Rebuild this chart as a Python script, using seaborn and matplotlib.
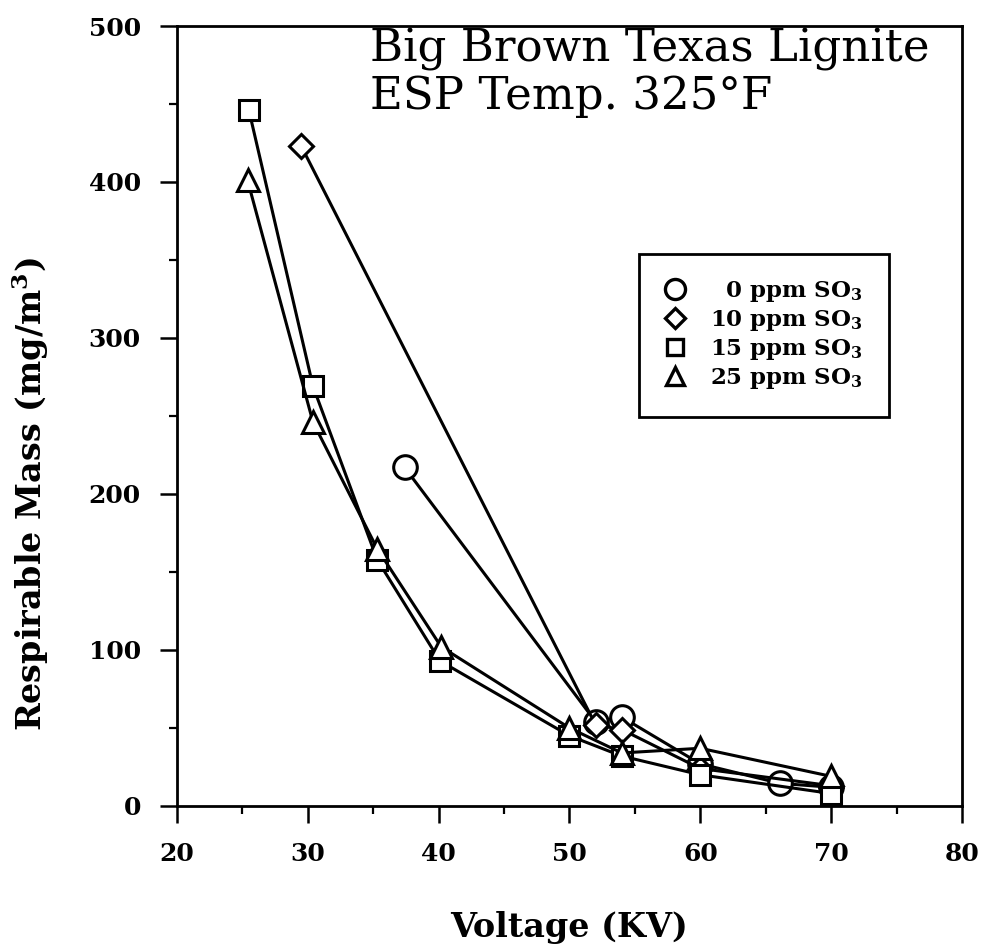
"""Respirable mass vs ESP voltage, Big Brown Texas lignite."""

import matplotlib

matplotlib.use("Agg")
import matplotlib.pyplot as plt
import pandas as pd
import seaborn as sns
from matplotlib.lines import Line2D
from matplotlib.ticker import MultipleLocator

# --- data -------------------------------------------------------------------
series_names = ["0 ppm", "10 ppm", "15 ppm", "25 ppm"]
series_markers = ["o", "D", "s", "^"]
marker_sizes = [17, 12, 14, 16]

kv_0ppm = [37.4, 52.0, 54.0, 60.0, 66.1, 70.0]
mass_0ppm = [217, 54, 57, 27, 14.5, 12]

kv_10ppm = [29.5, 52.0, 54.0, 60.0, 70.0]
mass_10ppm = [423, 52, 49, 24, 13]

kv_15ppm = [25.5, 30.4, 35.3, 40.1, 50.0, 54.0, 60.0, 70.0]
mass_15ppm = [446, 269, 158, 93, 45, 32, 20, 8]

kv_25ppm = [25.4, 30.4, 35.3, 40.2, 50.0, 54.0, 60.0, 70.0]
mass_25ppm = [401, 246, 165, 102, 50, 34, 37, 19]

legend_labels = [
    "\u20070 ppm SO$_{\\mathbf{3}}$\u2007",
    "10 ppm SO$_{\\mathbf{3}}$\u2007",
    "15 ppm SO$_{\\mathbf{3}}$\u2007",
    "25 ppm SO$_{\\mathbf{3}}$\u2007",
]

xs = [kv_0ppm, kv_10ppm, kv_15ppm, kv_25ppm]
ys = [mass_0ppm, mass_10ppm, mass_15ppm, mass_25ppm]
df = pd.concat(
    [pd.DataFrame({"kv": x, "mass": y, "so3": name}) for name, x, y in zip(series_names, xs, ys)],
    ignore_index=True,
)

sns.set_style("ticks")
plt.rcParams["font.family"] = ["DejaVu Serif"]
plt.rcParams["mathtext.fontset"] = "dejavuserif"
for key in ["text.color", "axes.labelcolor", "xtick.color", "ytick.color", "axes.edgecolor"]:
    plt.rcParams[key] = "black"

fig = plt.figure(figsize=(9.83, 9.49), dpi=100)
ax = fig.add_axes([0.180, 0.1507, 0.7986, 0.8219])

for name, marker, msize in zip(series_names, series_markers, marker_sizes):
    sns.lineplot(
        data=df[df["so3"] == name],
        x="kv",
        y="mass",
        color="black",
        marker=marker,
        sort=False,
        estimator=None,
        legend=False,
        linewidth=2.2,
        markersize=msize,
        markerfacecolor="white",
        markeredgecolor="black",
        markeredgewidth=2.2,
        ax=ax,
    )

ax.set_xlim(20, 80)
ax.set_ylim(0, 500)
ax.xaxis.set_major_locator(MultipleLocator(10))
ax.xaxis.set_minor_locator(MultipleLocator(5))
ax.yaxis.set_major_locator(MultipleLocator(100))
ax.yaxis.set_minor_locator(MultipleLocator(50))
ax.tick_params(which="major", length=12, width=1.8, direction="out", pad=14,
               labelsize=18, color="black", labelcolor="black")
ax.tick_params(which="minor", length=6, width=1.6, direction="out", color="black")
for lbl in ax.get_xticklabels() + ax.get_yticklabels():
    lbl.set_fontweight("bold")
for side in ["left", "bottom", "top", "right"]:
    ax.spines[side].set_linewidth(2.0)
    ax.spines[side].set_color("black")

ax.set_xlabel("Voltage (KV)", fontsize=24, fontweight="bold")
ax.set_ylabel("Respirable Mass (mg/m$^{\\mathbf{3}}$)", fontsize=24, fontweight="bold")
ax.xaxis.set_label_coords(0.5, -0.134)
ax.yaxis.set_label_coords(-0.160, 0.40)

ax.text(0.246, 0.998, "Big Brown Texas Lignite\nESP Temp. 325°F", transform=ax.transAxes,
        ha="left", va="top", fontsize=32.5, linespacing=1.12)

handles = [
    Line2D([], [], linestyle="none", marker=m, markersize=s * 0.85, markerfacecolor="white",
           markeredgecolor="black", markeredgewidth=2.4)
    for m, s in zip(series_markers, marker_sizes)
]
leg = ax.legend(
    handles, legend_labels, loc="upper left", bbox_to_anchor=(0.588, 0.708),
    borderaxespad=0, frameon=True, fancybox=False, framealpha=1, edgecolor="black",
    prop=dict(family="DejaVu Serif", weight="bold", size=16.5),
    handlelength=1.0, handletextpad=1.0, labelspacing=0.18, borderpad=1.1,
)
leg.get_frame().set_linewidth(2.0)

fig.savefig("out.png", dpi=100)
plt.close(fig)
